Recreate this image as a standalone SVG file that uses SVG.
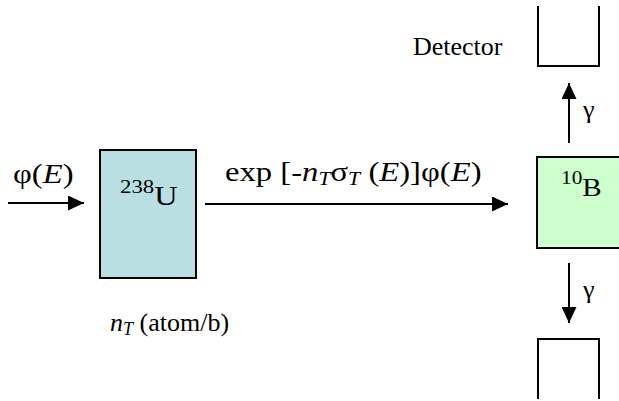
<svg xmlns="http://www.w3.org/2000/svg" width="619" height="401" viewBox="0 0 619 401" font-family="'Liberation Serif', 'Times New Roman', 'DejaVu Serif', serif">
<defs>
<marker id="ah" viewBox="0 0 16 15" refX="16" refY="7.5" markerWidth="16" markerHeight="15" markerUnits="userSpaceOnUse" orient="auto">
<path d="M0,0 L16,7.5 L0,15 Z" fill="#000"/>
</marker>
<style>
text{font-family:'Liberation Serif','Times New Roman','DejaVu Serif',serif;font-size:26px;fill:#000}
.m{font-size:27px}
.i{font-style:italic}
.sub{font-size:18px;font-style:italic}
.sup{font-size:19px}
.box{stroke:#000;stroke-width:2}
.ln{stroke:#000;stroke-width:2;fill:none}
</style>
</defs>
<rect width="619" height="401" fill="#fff"/>
<g id="connectors">
<line class="ln" x1="8" y1="203" x2="84" y2="203" marker-end="url(#ah)"/>
<line class="ln" x1="205" y1="204" x2="508" y2="204" marker-end="url(#ah)"/>
<line class="ln" x1="569" y1="143" x2="569" y2="83" marker-end="url(#ah)"/>
<line class="ln" x1="569" y1="263" x2="569" y2="323" marker-end="url(#ah)"/>
</g>
<g id="label-phi" transform="translate(13,183) scale(1.21,1)"><text class="m" x="0" y="0">φ(<tspan class="i">E</tspan>)</text></g>
<g id="U238">
<rect class="box" x="100" y="150" width="96" height="128" fill="#b9dfe3"/>
<g transform="translate(120,205) scale(1.2,1)"><text class="m" x="0" y="0"><tspan class="sup" dy="-12">238</tspan><tspan dy="12">U</tspan></text></g>
</g>
<g id="label-exp" transform="translate(225,181) scale(1.21,1)"><text class="m" x="0" y="0">exp [-<tspan class="i">n</tspan><tspan class="sub" dy="4">T</tspan><tspan dy="-4">σ</tspan><tspan class="sub" dy="4">T</tspan><tspan dy="-4"> (</tspan><tspan class="i">E</tspan>)]φ(<tspan class="i">E</tspan>)</text></g>
<g id="label-nT"><text x="110" y="331"><tspan class="i">n</tspan><tspan class="sub" dy="4">T</tspan><tspan dy="-4"> (atom/b)</tspan></text></g>
<g id="B10">
<rect class="box" x="537" y="157" width="90" height="91" fill="#ccffcc"/>
<g transform="translate(561,196) scale(1.12,1)"><text x="0" y="0"><tspan class="sup" dy="-12">10</tspan><tspan dy="12">B</tspan></text></g>
</g>
<g id="detector-top">
<path class="box" fill="none" d="M538,6 V66 H599 V6"/>
<text x="413" y="55">Detector</text>
</g>
<g id="detector-bottom">
<path class="box" fill="none" d="M538,399 V339 H599 V399"/>
</g>
<g id="gamma-up"><text x="583" y="118">γ</text></g>
<g id="gamma-down"><text x="583" y="298">γ</text></g>
</svg>
